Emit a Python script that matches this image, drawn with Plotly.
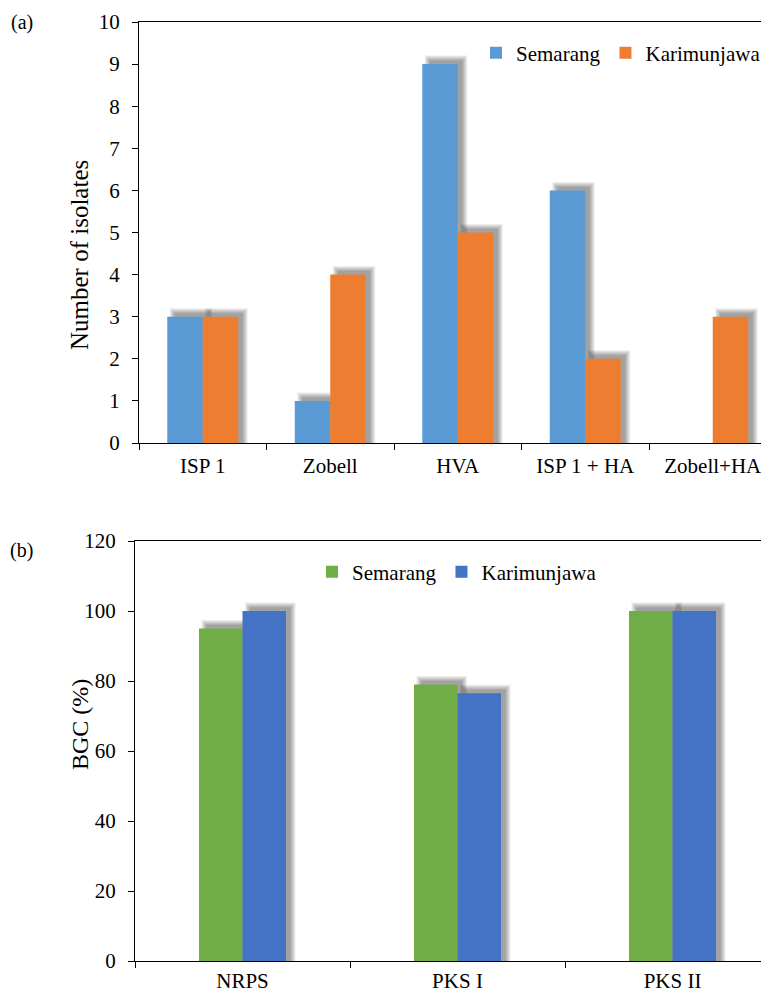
import plotly.graph_objects as go

# ---- data ----
media = ["ISP 1", "Zobell", "HVA", "ISP 1 + HA", "Zobell+HA"]
isolates_semarang = [3, 1, 9, 6, 0]
isolates_karimunjawa = [3, 4, 5, 2, 3]

bgc_types = ["NRPS", "PKS I", "PKS II"]
bgc_semarang = [95, 79, 100]
bgc_karimunjawa = [100, 76.5, 100]

yticks_a = list(range(0, 11))
yticks_b = list(range(0, 121, 20))

FONT = "Liberation Serif, Times New Roman, serif"
SCREEN_W, SCREEN_H = 769, 994
OFF = 8  # page body margin
W, H = SCREEN_W - OFF, SCREEN_H - OFF

fig = go.Figure()

def add_panel(cats, s1, s2, names, colors, xa, ya, legend, bar_px, px_x, px_y):
    w = bar_px / px_x
    idx = list(range(len(cats)))
    dx = 6 / px_x
    dy = 5 / px_y
    # soft shadows (several translucent layers)
    for e in [3.5, 2.5, 1.5, 0.5, -0.5, -1.5]:
        ex = e / px_x
        ey = e / px_y
        for vals, off in [(s1, -w), (s2, 0.0)]:
            fig.add_trace(go.Bar(
                x=idx, y=[(v + dy + ey) if v > 0 else 0 for v in vals],
                width=w + 2 * ex, offset=off + dx - ex,
                marker=dict(color="rgba(0,0,0,0.07)", line=dict(width=0)),
                xaxis=xa, yaxis=ya, showlegend=False, hoverinfo="skip"))
    for vals, off, nm, col in [(s1, -w, names[0], colors[0]), (s2, 0.0, names[1], colors[1])]:
        fig.add_trace(go.Bar(
            x=idx, y=vals, width=w, offset=off, name=nm,
            marker=dict(color=col, line=dict(width=0)),
            xaxis=xa, yaxis=ya, legend=legend))

# panel (a)
add_panel(media, isolates_semarang, isolates_karimunjawa,
          ["Semarang", "Karimunjawa"], ["#5B9BD5", "#ED7D31"],
          "x", "y", "legend", 35.5, 127.5, 42.1)
# panel (b)
add_panel(bgc_types, bgc_semarang, bgc_karimunjawa,
          ["Semarang", "Karimunjawa"], ["#70AD47", "#4472C4"],
          "x2", "y2", "legend2", 43.5, 215.0, 3.5)

def px_x(p):
    return (p - OFF) / W

def px_y(p):
    return 1 - (p - OFF) / H

ax_common = dict(showline=True, linecolor="black", linewidth=1.3,
                 ticks="outside", ticklen=6, tickcolor="black", tickwidth=1.2,
                 showgrid=False, zeroline=False, automargin=False,
                 tickfont=dict(family=FONT, size=21, color="black"))

a_left = 139
b_left = 135
a_cat = 127.5
b_cat = 215.0

fig.update_layout(
    template="none",
    width=W, height=H, margin=dict(l=0, r=0, t=0, b=0, autoexpand=False),
    paper_bgcolor="white", plot_bgcolor="white",
    barmode="overlay",
    font=dict(family=FONT, color="black"),
    xaxis=dict(**ax_common, domain=[px_x(a_left), 1], anchor="y",
               range=[-0.5, (SCREEN_W - a_left) / a_cat - 0.5],
               tickmode="array", tickvals=list(range(len(media))), ticktext=media,
               ticklabelstandoff=4, mirror=True),
    yaxis=dict(**ax_common, domain=[px_y(443), px_y(22)], anchor="x",
               range=[0, 10], tickmode="array", tickvals=yticks_a,
               ticklabelstandoff=8),
    xaxis2=dict(**ax_common, domain=[px_x(b_left), 1], anchor="y2",
                range=[-0.5, (SCREEN_W - b_left) / b_cat - 0.5],
                tickmode="array", tickvals=list(range(len(bgc_types))), ticktext=bgc_types,
                ticklabelstandoff=1, mirror=True),
    yaxis2=dict(**ax_common, domain=[px_y(961), px_y(541)], anchor="x2",
                range=[0, 120], tickmode="array", tickvals=yticks_b,
                ticklabelstandoff=8),
    legend=dict(orientation="h", x=px_x(476), y=px_y(53), xanchor="left", yanchor="middle",
                font=dict(family=FONT, size=21, color="black"),
                bgcolor="rgba(0,0,0,0)", itemwidth=30, tracegroupgap=0),
    legend2=dict(orientation="h", x=px_x(312), y=px_y(572), xanchor="left", yanchor="middle",
                 font=dict(family=FONT, size=21, color="black"),
                 bgcolor="rgba(0,0,0,0)", itemwidth=30, tracegroupgap=0),
    annotations=[
        dict(text="(a)", x=px_x(9), y=px_y(22), xref="paper", yref="paper",
             xanchor="left", yanchor="middle", showarrow=False,
             font=dict(family=FONT, size=20, color="black")),
        dict(text="(b)", x=px_x(8), y=px_y(550), xref="paper", yref="paper",
             xanchor="left", yanchor="middle", showarrow=False,
             font=dict(family=FONT, size=20, color="black")),
        dict(text="Number of isolates", x=px_x(79), y=px_y(255), xref="paper", yref="paper",
             xanchor="center", yanchor="middle", showarrow=False, textangle=-90,
             font=dict(family=FONT, size=25, color="black")),
        dict(text="BGC (%)", x=px_x(80), y=px_y(725), xref="paper", yref="paper",
             xanchor="center", yanchor="middle", showarrow=False, textangle=-90,
             font=dict(family=FONT, size=24, color="black")),
    ],
)

# boundary tick marks on the x axes via minor ticks
fig.update_layout(
    xaxis=dict(ticks="", minor=dict(tickmode="array", tickvals=[i - 0.5 for i in range(len(media) + 1)],
                          ticks="outside", ticklen=6, tickcolor="black", tickwidth=1.2)),
    xaxis2=dict(ticks="", minor=dict(tickmode="array", tickvals=[i - 0.5 for i in range(len(bgc_types) + 1)],
                           ticks="outside", ticklen=6, tickcolor="black", tickwidth=1.2)),
)

fig.write_html("out.html")
